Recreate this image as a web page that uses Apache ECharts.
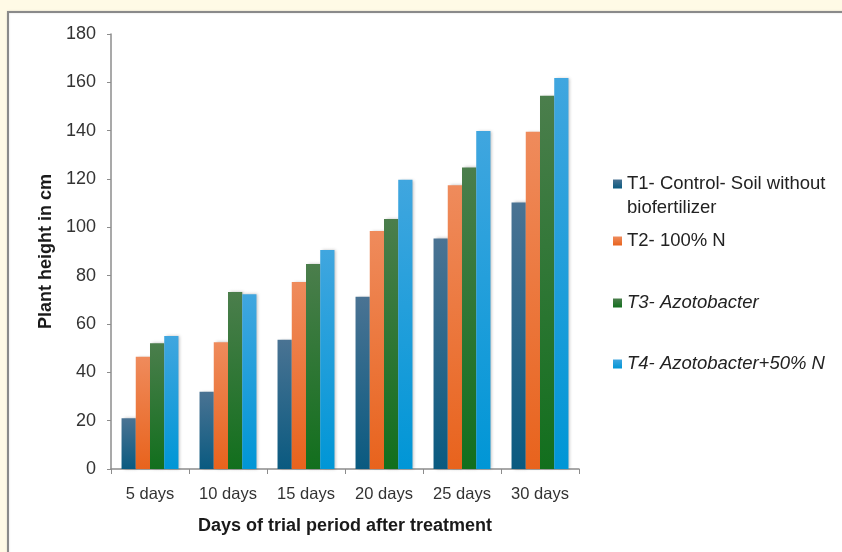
<!DOCTYPE html>
<html>
<head>
<meta charset="utf-8">
<script src="https://cdn.jsdelivr.net/npm/echarts@6/dist/echarts.min.js"></script>
<style>
  html, body { margin: 0; padding: 0; background: #fffae6; }
  #chart { width: 842px; height: 552px; }
</style>
</head>
<body>
<div id="chart"></div>
<script>
// Plant height (cm) over the trial period for each treatment
const categories = ['5 days', '10 days', '15 days', '20 days', '25 days', '30 days'];
const seriesNames = [
  'T1- Control- Soil without biofertilizer',
  'T2- 100% N',
  'T3- Azotobacter',
  'T4- Azotobacter+50% N'
];
const t1Control = [21, 32, 53.5, 71.3, 95.4, 110.3];
const t2Nitrogen = [46.5, 52.5, 77.4, 98.5, 117.4, 139.6];
const t3Azotobacter = [52, 73.2, 84.8, 103.4, 124.8, 154.5];
const t4AzotoNitrogen = [55, 72.3, 90.6, 119.7, 139.9, 161.8];
const yTicks = [0, 20, 40, 60, 80, 100, 120, 140, 160, 180];

const values = [t1Control, t2Nitrogen, t3Azotobacter, t4AzotoNitrogen];
const gradients = [
  ['#4a7393', '#0a5a80'],
  ['#ef8b5c', '#e8631d'],
  ['#4b7e4c', '#126f1d'],
  ['#40a6df', '#0096d6']
];
const swatches = ['#1b5f84', '#ec6f2d', '#1d6b25', '#1aa0dc'];
const FONT = 'Liberation Sans, Arial, sans-serif';

const chart = echarts.init(document.getElementById('chart'), null, { renderer: 'canvas' });

const series = values.map((v, i) => ({
  name: seriesNames[i],
  type: 'bar',
  data: v,
  barGap: '0%',
  barCategoryGap: '27%',
  color: swatches[i],
  itemStyle: {
    color: new echarts.graphic.LinearGradient(0, 0, 0, 1, [
      { offset: 0, color: gradients[i][0] },
      { offset: 1, color: gradients[i][1] }
    ]),
    shadowColor: 'rgba(0,0,0,0.25)',
    shadowBlur: 3,
    shadowOffsetX: 2
  },
  emphasis: { disabled: true }
}));

// one legend block per treatment so each entry sits at its own height
const legendCenters = [184, 241, 303, 364];
const legends = seriesNames.map((n, i) => ({
  data: [{ name: n, textStyle: { fontStyle: i >= 2 ? 'italic' : 'normal' } }],
  left: 613,
  top: legendCenters[i] - 11,
  padding: 0,
  orient: 'vertical',
  icon: 'rect',
  itemWidth: 9,
  itemHeight: 9,
  itemGap: 6,
  selectedMode: false,
  formatter: name => name === seriesNames[0] ? 'T1- Control- Soil without' : name,
  textStyle: {
    fontFamily: FONT,
    fontSize: 18.5,
    color: '#222',
    lineHeight: 22
  }
}));

chart.setOption({
  backgroundColor: '#fffae6',
  animation: false,
  graphic: [
    {
      type: 'rect',
      shape: { x: 8, y: 12, width: 850, height: 560 },
      style: { fill: '#ffffff', stroke: '#8a8a8a', lineWidth: 2, shadowColor: 'rgba(0,0,0,0.15)', shadowBlur: 2 },
      z: -10
    },
    {
      // second line of the T1 legend entry
      type: 'text',
      left: 627,
      top: 198,
      style: { text: 'biofertilizer', font: '18.5px ' + FONT, fill: '#222' }
    }
  ],
  legend: legends,
  grid: { left: 111, top: 34, right: 263, bottom: 83 },
  xAxis: {
    type: 'category',
    data: categories,
    name: 'Days of trial period after treatment',
    nameLocation: 'middle',
    nameGap: 48,
    nameTextStyle: { fontFamily: FONT, fontSize: 18, fontWeight: 'bold', color: '#1a1a1a' },
    axisLine: { lineStyle: { color: '#8c8c8c', width: 1.5 } },
    axisTick: { show: true, length: 5, lineStyle: { color: '#8c8c8c' } },
    axisLabel: { interval: 0, fontFamily: FONT, fontSize: 16.5, color: '#333', margin: 17 }
  },
  yAxis: {
    type: 'value',
    min: yTicks[0],
    max: yTicks[yTicks.length - 1],
    interval: yTicks[1] - yTicks[0],
    name: 'Plant height in cm',
    nameLocation: 'middle',
    nameGap: 56,
    nameTextStyle: { fontFamily: FONT, fontSize: 18, fontWeight: 'bold', color: '#1a1a1a' },
    axisLine: { show: true, lineStyle: { color: '#8c8c8c', width: 1.5 } },
    axisTick: { show: true, length: 4, lineStyle: { color: '#8c8c8c' } },
    splitLine: { show: false },
    axisLabel: { fontFamily: FONT, fontSize: 18, color: '#333', margin: 15 }
  },
  series: series
});
</script>
</body>
</html>
